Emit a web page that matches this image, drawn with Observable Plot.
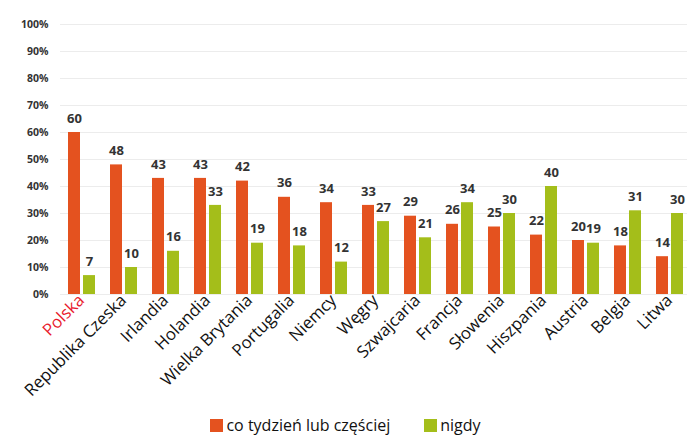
<!DOCTYPE html>
<html><head><meta charset="utf-8">
<script src="https://cdn.jsdelivr.net/npm/d3@7"></script>
<script src="https://cdn.jsdelivr.net/npm/@observablehq/plot@0.6"></script>
<style>
body{margin:0;background:#fff;font-family:"Open Sans",sans-serif}
#legend{display:flex;justify-content:center;gap:34px;font-size:16px;height:25px;align-items:center;color:#111;margin-left:4px}
.sw{display:inline-block;width:13px;height:13px;margin-right:3px;vertical-align:-1px}
</style></head><body>
<div id="chart"></div><div id="legend"></div>
<script>
const countries = ["Polska","Republika Czeska","Irlandia","Holandia","Wielka Brytania","Portugalia","Niemcy","Węgry","Szwajcaria","Francja","Słowenia","Hiszpania","Austria","Belgia","Litwa"];
const weekly = [60,48,43,43,42,36,34,33,29,26,25,22,20,18,14];
const never = [7,10,16,33,19,18,12,27,21,34,30,40,19,31,30];
const seriesNames = ["co tydzień lub częściej","nigdy"];
const seriesColors = ["#e4521f","#a4be1a"];
const yTicks = [0,10,20,30,40,50,60,70,80,90,100];
const highlight = "Polska";

const data = [];
countries.forEach((c,i)=>{
  data.push({country:c, series:seriesNames[0], value:weekly[i]});
  data.push({country:c, series:seriesNames[1], value:never[i]});
});

const chart = Plot.plot({
  width: 687, height: 412,
  marginTop: 24, marginBottom: 118, marginLeft: 64, marginRight: 2,
  style: {fontFamily: "Open Sans", background: "#fff"},
  fx: {domain: countries, paddingInner: 0.34, paddingOuter: 0, label: null, axis: null},
  x: {domain: seriesNames, paddingInner: 0.2, paddingOuter: 0, axis: null},
  y: {domain: [0,100], axis: null},
  color: {domain: seriesNames, range: seriesColors},
  marks: [
    Plot.ruleY(yTicks, {y: d=>d, stroke: "#ececec", strokeWidth: 1, insetLeft: -7, insetRight: -7}),
    Plot.axisY({ticks: yTicks, tickFormat: d => d + "%", tickSize: 0, tickPadding: 19, fontWeight: "bold", fontSize: 10.5, fill: "#333", label: null}),
    Plot.barY(data, {fx: "country", x: "series", y: "value", fill: "series"}),
    Plot.text(data, {fx: "country", x: "series", y: "value", text: d => String(d.value), dy: -14, fontWeight: "bold", fontSize: 13, fill: "#333"}),
    Plot.axisFx({anchor: "bottom", tickRotate: -45, tickSize: 0, tickPadding: 3, fontSize: 16.8, fill: "#111", label: null})
  ]
});
d3.select(chart).selectAll("text").filter(function(){return this.textContent === highlight;}).attr("fill", "#e8192c");
document.getElementById("chart").appendChild(chart);

const legend = d3.select("#legend");
seriesNames.forEach((s,i)=>{
  const item = legend.append("span");
  item.append("span").attr("class","sw").style("background", seriesColors[i]);
  item.append("span").text(s);
});
</script>
</body></html>
